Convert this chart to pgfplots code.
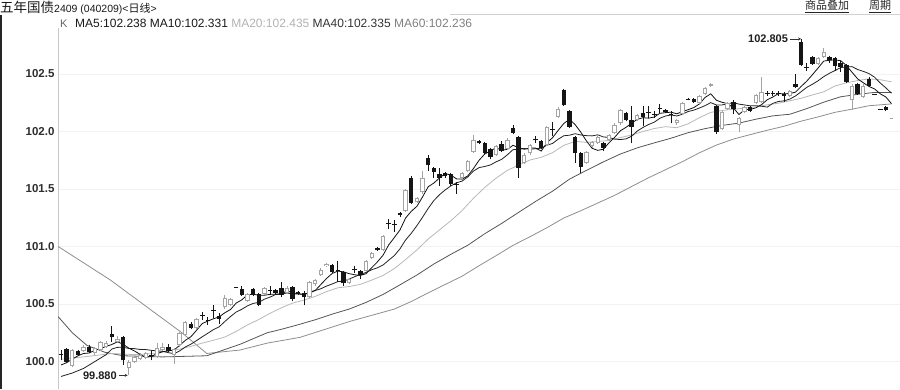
\documentclass[border=0pt]{standalone}
\usepackage{pgfplots}
\pgfplotsset{compat=1.18}
\usepackage{pgfplotstable}
\usepackage{fontspec}
\setmainfont{Liberation Sans}
\newfontfamily\cjk{Noto Sans CJK SC}
\usetikzlibrary{arrows.meta}
\definecolor{upc}{HTML}{A4A4A4}
\definecolor{dnc}{HTML}{151515}
\definecolor{maA}{HTML}{111111}
\definecolor{maB}{HTML}{222222}
\definecolor{maC}{HTML}{B8B8B8}
\definecolor{maD}{HTML}{555555}
\definecolor{maE}{HTML}{8E8E8E}

% up candles: index open high low close
\pgfplotstableread{
i o h l c
2 99.96 100.11 99.95 100.10
4 100.09 100.14 100.08 100.13
6 100.07 100.13 100.06 100.12
7 100.10 100.18 100.09 100.17
8 100.13 100.18 100.12 100.16
10 100.17 100.22 100.16 100.20
12 99.94 100.01 99.88 100.00
13 100.00 100.05 99.99 100.04
14 100.02 100.07 100.01 100.06
15 100.03 100.08 100.02 100.07
17 100.04 100.16 100.03 100.12
18 100.10 100.16 100.09 100.13
20 100.06 100.12 99.98 100.11
21 100.14 100.26 100.13 100.25
22 100.23 100.35 100.22 100.34
24 100.29 100.38 100.28 100.37
29 100.47 100.58 100.46 100.55
30 100.49 100.55 100.48 100.54
33 100.53 100.60 100.52 100.59
36 100.59 100.65 100.58 100.64
40 100.60 100.66 100.59 100.64
44 100.56 100.70 100.55 100.69
45 100.67 100.72 100.66 100.71
46 100.75 100.81 100.74 100.80
47 100.83 100.86 100.82 100.85
51 100.68 100.73 100.67 100.72
54 100.79 100.88 100.78 100.87
55 100.90 100.95 100.89 100.94
57 100.97 101.10 100.96 101.09
61 101.31 101.50 101.30 101.49
63 101.39 101.43 101.38 101.42
64 101.47 101.66 101.46 101.60
71 101.60 101.65 101.59 101.64
72 101.66 101.75 101.65 101.74
73 101.82 101.97 101.81 101.93
77 101.80 101.88 101.79 101.87
79 101.85 101.94 101.84 101.93
82 101.73 101.81 101.72 101.80
83 101.81 101.89 101.80 101.88
86 101.88 102.05 101.87 102.04
88 102.13 102.21 102.12 102.20
93 101.73 101.83 101.72 101.82
94 101.87 101.92 101.86 101.91
95 101.90 101.96 101.89 101.95
97 101.93 101.98 101.92 101.97
98 101.99 102.07 101.98 102.06
99 102.07 102.20 102.06 102.19
102 102.10 102.15 102.09 102.14
109 102.07 102.11 102.06 102.10
110 102.15 102.26 102.14 102.25
113 102.25 102.32 102.24 102.31
114 102.33 102.39 102.32 102.38
115 102.40 102.42 102.39 102.41
117 102.02 102.18 102.01 102.17
118 102.20 102.26 102.19 102.25
120 102.06 102.13 102.00 102.12
121 102.17 102.22 102.16 102.21
123 102.25 102.33 102.24 102.32
124 102.26 102.47 102.25 102.34
129 102.31 102.36 102.30 102.35
134 102.59 102.65 102.58 102.64
135 102.65 102.73 102.64 102.69
140 102.27 102.41 102.19 102.40
142 102.30 102.41 102.29 102.40
}\uptab

% down candles
\pgfplotstableread{
i o h l c
1 100.11 100.12 99.99 100.00
3 100.09 100.10 100.05 100.06
5 100.13 100.14 100.07 100.08
9 100.24 100.31 100.17 100.21
11 100.21 100.22 99.97 100.01
19 100.13 100.15 100.08 100.09
23 100.33 100.34 100.28 100.29
28 100.40 100.42 100.33 100.37
32 100.63 100.66 100.57 100.58
34 100.63 100.64 100.57 100.58
35 100.59 100.60 100.48 100.49
38 100.62 100.63 100.59 100.60
39 100.64 100.69 100.56 100.58
41 100.65 100.66 100.53 100.54
42 100.60 100.61 100.58 100.59
43 100.60 100.61 100.49 100.56
48 100.84 100.85 100.77 100.78
50 100.78 100.79 100.66 100.68
53 100.79 100.80 100.72 100.75
56 100.99 101.00 100.96 100.97
60 101.29 101.30 101.26 101.27
62 101.60 101.61 101.37 101.38
65 101.77 101.80 101.66 101.71
66 101.68 101.69 101.60 101.65
67 101.63 101.68 101.53 101.60
68 101.64 101.65 101.60 101.61
69 101.63 101.64 101.53 101.54
74 101.92 101.93 101.89 101.90
75 101.90 101.91 101.80 101.81
76 101.85 101.86 101.76 101.78
78 101.89 101.92 101.82 101.83
80 102.03 102.06 101.98 101.99
81 101.95 101.96 101.60 101.68
85 101.92 101.93 101.85 101.86
89 102.36 102.37 102.22 102.23
90 102.18 102.19 102.03 102.04
91 101.95 101.96 101.73 101.81
92 101.81 101.82 101.64 101.69
96 101.90 101.91 101.83 101.86
100 102.16 102.17 102.09 102.10
101 102.10 102.22 101.90 102.04
103 102.16 102.22 102.05 102.13
107 102.19 102.20 102.16 102.17
112 102.28 102.29 102.25 102.26
116 102.22 102.23 101.98 102.00
119 102.26 102.27 102.15 102.20
122 102.21 102.22 102.17 102.18
128 102.33 102.34 102.26 102.31
130 102.41 102.50 102.38 102.39
131 102.78 102.805 102.57 102.58
133 102.65 102.66 102.58 102.59
136 102.65 102.66 102.60 102.62
137 102.64 102.65 102.53 102.57
138 102.60 102.61 102.52 102.56
139 102.58 102.59 102.42 102.43
141 102.41 102.42 102.32 102.33
143 102.46 102.47 102.39 102.40
146 102.21 102.22 102.18 102.19
}\dntab

% doji candles: index close high low
\pgfplotstableread{
i c h l
0 100.06 100.10 100.01
16 100.05 100.09 100.01
25 100.40 100.43 100.36
26 100.36 100.39 100.32
27 100.44 100.49 100.38
31 100.64 100.65 100.64
37 100.62 100.66 100.58
49 100.79 100.87 100.69
52 100.80 100.83 100.77
58 101.20 101.24 101.15
59 101.19 101.23 101.13
70 101.54 101.56 101.46
84 101.93 101.96 101.90
87 102.02 102.08 101.96
104 102.17 102.22 102.12
105 102.15 102.18 102.12
106 102.20 102.24 102.16
108 102.15 102.18 102.07
111 102.28 102.29 102.27
125 102.33 102.35 102.31
126 102.33 102.35 102.31
127 102.33 102.35 102.31
132 102.56 102.60 102.53
144 102.32 102.32 102.32
145 102.19 102.19 102.19
}\djtab

\pgfplotstableread{
i v
0 99.97
1 99.99
2 100.02
3 100.05
4 100.070
5 100.074
6 100.098
7 100.112
8 100.132
9 100.148
10 100.172
11 100.150
12 100.116
13 100.092
14 100.062
15 100.036
16 100.044
17 100.068
18 100.086
19 100.092
20 100.100
21 100.140
22 100.184
23 100.216
24 100.272
25 100.330
26 100.352
27 100.372
28 100.388
29 100.424
30 100.452
31 100.508
32 100.536
33 100.580
34 100.586
35 100.576
36 100.576
37 100.584
38 100.586
39 100.586
40 100.616
41 100.596
42 100.590
43 100.582
44 100.604
45 100.618
46 100.670
47 100.722
48 100.766
49 100.786
50 100.780
51 100.764
52 100.754
53 100.748
54 100.764
55 100.816
56 100.866
57 100.924
58 101.014
59 101.078
60 101.144
61 101.248
62 101.306
63 101.350
64 101.432
65 101.520
66 101.552
67 101.596
68 101.634
69 101.622
70 101.588
71 101.586
72 101.614
73 101.678
74 101.750
75 101.804
76 101.832
77 101.858
78 101.838
79 101.844
80 101.880
81 101.860
82 101.846
83 101.856
84 101.856
85 101.830
86 101.902
87 101.946
88 102.010
89 102.070
90 102.106
91 102.060
92 101.994
93 101.918
94 101.854
95 101.836
96 101.846
97 101.902
98 101.950
99 102.006
100 102.036
101 102.072
102 102.106
103 102.120
104 102.116
105 102.126
106 102.158
107 102.164
108 102.168
109 102.154
110 102.174
111 102.190
112 102.208
113 102.240
114 102.296
115 102.328
116 102.272
117 102.254
118 102.242
119 102.206
120 102.148
121 102.190
122 102.192
123 102.206
124 102.234
125 102.276
126 102.300
127 102.330
128 102.328
129 102.330
130 102.342
131 102.392
132 102.438
133 102.494
134 102.552
135 102.612
136 102.620
137 102.622
138 102.616
139 102.574
140 102.516
141 102.458
142 102.424
143 102.392
144 102.370
145 102.328
146 102.300
147 102.242
}\mafive

\pgfplotstableread{
i v
0 99.87
2 99.90
4 99.94
6 100.00
8 100.06
9 100.109
10 100.123
11 100.124
12 100.114
13 100.112
14 100.105
15 100.104
16 100.097
17 100.092
18 100.089
19 100.077
20 100.068
21 100.092
22 100.126
23 100.151
24 100.182
25 100.215
26 100.246
27 100.278
28 100.302
29 100.348
30 100.391
31 100.430
32 100.454
33 100.484
34 100.505
35 100.514
36 100.542
37 100.560
38 100.583
39 100.586
40 100.596
41 100.586
42 100.587
43 100.584
44 100.595
45 100.617
46 100.633
47 100.656
48 100.674
49 100.695
50 100.699
51 100.717
52 100.738
53 100.757
54 100.775
55 100.798
56 100.815
57 100.839
58 100.881
59 100.921
60 100.980
61 101.057
62 101.115
63 101.182
64 101.255
65 101.332
66 101.400
67 101.451
68 101.492
69 101.527
70 101.554
71 101.569
72 101.605
73 101.656
74 101.686
75 101.696
76 101.709
77 101.736
78 101.758
79 101.797
80 101.842
81 101.846
82 101.852
83 101.847
84 101.850
85 101.855
86 101.881
87 101.896
88 101.933
89 101.963
90 101.968
91 101.981
92 101.970
93 101.964
94 101.962
95 101.971
96 101.953
97 101.948
98 101.934
99 101.930
100 101.936
101 101.959
102 102.004
103 102.035
104 102.061
105 102.081
106 102.115
107 102.135
108 102.144
109 102.135
110 102.150
111 102.174
112 102.186
113 102.204
114 102.225
115 102.251
116 102.231
117 102.231
118 102.241
119 102.251
120 102.238
121 102.231
122 102.223
123 102.224
124 102.220
125 102.212
126 102.245
127 102.261
128 102.267
129 102.282
130 102.309
131 102.346
132 102.384
133 102.411
134 102.441
135 102.477
136 102.506
137 102.530
138 102.555
139 102.563
140 102.564
141 102.539
142 102.523
143 102.504
144 102.472
145 102.422
146 102.379
147 102.333
}\maten

\pgfplotstableread{
i v
0 100.02
4 100.04
9 100.07
13 100.06
17 100.07
19 100.093
21 100.108
23 100.132
25 100.160
27 100.185
29 100.213
31 100.261
33 100.318
35 100.365
37 100.419
39 100.467
41 100.508
43 100.534
45 100.566
47 100.608
49 100.641
51 100.652
53 100.671
55 100.708
57 100.748
59 100.808
61 100.887
63 100.970
65 101.065
67 101.145
69 101.224
71 101.313
73 101.419
75 101.514
77 101.594
79 101.662
81 101.708
83 101.752
85 101.776
87 101.816
89 101.880
91 101.914
93 101.906
95 101.913
97 101.922
99 101.947
101 101.970
103 102.000
105 102.026
107 102.042
109 102.033
111 102.067
113 102.120
115 102.166
117 102.183
119 102.193
121 102.203
123 102.214
125 102.232
127 102.246
129 102.267
131 102.289
133 102.318
135 102.345
137 102.396
139 102.423
141 102.443
143 102.458
145 102.450
147 102.432
}\matwenty

\pgfplotstableread{
i v
-0.5 100.39
2 100.25
4.6 100.14
7.8 100.08
11 100.05
18 100.04
25.8 100.05
31.7 100.15
36.5 100.25
39 100.280
42 100.320
45 100.363
48 100.412
51 100.456
54 100.514
57 100.583
60 100.667
63 100.752
66 100.848
69 100.932
72 101.011
75 101.111
78 101.201
81 101.297
84 101.392
87 101.481
90 101.586
93 101.662
96 101.736
99 101.804
102 101.858
105 101.901
108 101.942
111 101.990
114 102.025
117 102.053
120 102.073
123 102.107
126 102.136
129 102.150
132 102.199
135 102.255
138 102.302
141 102.323
144 102.340
147 102.339
}\mafourty

\pgfplotstableread{
i v
-0.5 101.00
8.7 100.71
21.4 100.25
25.8 100.07
31.7 100.10
36.5 100.16
42.3 100.21
51.2 100.35
59 100.456
62 100.522
65 100.597
68 100.670
71 100.742
74 100.833
77 100.920
80 101.010
83 101.085
86 101.163
89 101.248
92 101.311
95 101.378
98 101.445
101 101.522
104 101.598
107 101.668
110 101.738
113 101.815
116 101.882
119 101.934
122 101.973
125 102.011
128 102.046
131 102.090
134 102.127
137 102.167
140 102.194
143 102.224
147 102.240
}\masixty

\begin{document}
\begin{tikzpicture}
\useasboundingbox (-58pt,0pt) rectangle (842pt,389pt);
\begin{axis}[
  at={(0pt,0pt)}, anchor=south west, scale only axis,
  width=842pt, height=361pt,
  xmin=-0.53, xmax=148.5, ymin=99.761, ymax=102.9,
  axis x line=none, axis y line*=left,
  axis line style={draw=black!22, line width=0.8pt},
  ytick={100,100.5,101,101.5,102,102.5},
  major tick length=0pt,
  ymajorgrids, grid style={draw=black!5, line width=0.5pt},
  yticklabel style={font=\bfseries\fontsize{11.5}{13}\selectfont, text=black!82,
    /pgf/number format/fixed, /pgf/number format/fixed zerofill,
    /pgf/number format/precision=1, /pgf/number format/assume math mode=true},
]
% moving averages
\addplot[maE, line width=0.8pt] table[x=i,y=v]{\masixty};
\addplot[maD, line width=0.8pt] table[x=i,y=v]{\mafourty};
\addplot[maC, line width=0.8pt] table[x=i,y=v]{\matwenty};
\addplot[maB, line width=0.8pt] table[x=i,y=v]{\maten};
\addplot[maA, line width=0.8pt] table[x=i,y=v]{\mafive};
% up candles: wick, outline, hollow
\addplot[draw=none, error bars/.cd, y dir=plus, y explicit, error mark=none,
  error bar style={draw=upc, line width=0.8pt}]
  table[x=i, y=l, y error plus expr=\thisrow{h}-\thisrow{l}]{\uptab};
\addplot[draw=none, error bars/.cd, y dir=plus, y explicit, error mark=none,
  error bar style={draw=upc, line width=4.4pt}]
  table[x=i, y=o, y error plus expr={max(\thisrow{c}-\thisrow{o},0.012)}]{\uptab};
\addplot[draw=none, error bars/.cd, y dir=plus, y explicit, error mark=none,
  error bar style={draw=white, line width=2.4pt}]
  table[x=i, y expr=\thisrow{o}+0.0087, y error plus expr={max(\thisrow{c}-\thisrow{o}-0.0174,0)}]{\uptab};
% down candles
\addplot[draw=none, error bars/.cd, y dir=plus, y explicit, error mark=none,
  error bar style={draw=dnc, line width=0.8pt}]
  table[x=i, y=l, y error plus expr=\thisrow{h}-\thisrow{l}]{\dntab};
\addplot[draw=none, error bars/.cd, y dir=plus, y explicit, error mark=none,
  error bar style={draw=dnc, line width=4.4pt}]
  table[x=i, y=c, y error plus expr={max(\thisrow{o}-\thisrow{c},0.012)}]{\dntab};
% doji candles
\addplot[draw=none, error bars/.cd, y dir=plus, y explicit, error mark=none,
  error bar style={draw=dnc, line width=0.8pt}]
  table[x=i, y=l, y error plus expr=\thisrow{h}-\thisrow{l}]{\djtab};
\addplot[only marks, mark=-, mark size=2.3pt, mark options={draw=dnc, line width=0.9pt}]
  table[x=i, y=c]{\djtab};
\addplot[only marks, mark=-, mark size=1.6pt, mark options={draw=black!35, line width=0.9pt}]
  coordinates {(147,102.11)};
% annotations
\node[anchor=east, inner sep=0pt, font=\bfseries\fontsize{11}{12}\selectfont, text=black!88]
  at (axis cs:128.7,102.805) {102.805};
\draw[black!80, line width=0.7pt, -{Stealth[length=3pt,width=3pt]}] (axis cs:129.1,102.805) -- (axis cs:131.0,102.805);
\node[anchor=east, inner sep=0pt, font=\bfseries\fontsize{11}{12}\selectfont, text=black!88]
  at (axis cs:9.9,99.88) {99.880};
\draw[black!80, line width=0.7pt, -{Stealth[length=3pt,width=3pt]}] (axis cs:10.3,99.88) -- (axis cs:11.8,99.88);
\end{axis}
% frame and header
\draw[black!85, line width=1.6pt] (-57.2pt,0pt) -- (-57.2pt,374pt);
\draw[black!18, line width=0.8pt] (392pt,375pt) -- (842pt,375pt);
\node[anchor=west, inner sep=0pt, text=black!90] at (-58pt,381.5pt)
  {{\cjk\fontsize{13.5}{14}\selectfont 五年国债}{\fontsize{10.5}{12}\selectfont 2409 (040209)<}{\cjk\fontsize{11}{12}\selectfont 日线}{\fontsize{10.5}{12}\selectfont >}};
\node[inner sep=0pt, text=black!85, font=\cjk\fontsize{11}{12}\selectfont] at (769pt,382.5pt) {\underline{商品叠加}};
\node[inner sep=0pt, text=black!85, font=\cjk\fontsize{11}{12}\selectfont] at (822pt,382.5pt) {\underline{周期}};
\node[anchor=west, inner sep=0pt, text=black!60, font=\fontsize{11}{12}\selectfont] at (2pt,365.5pt) {K};
\node[anchor=west, inner sep=0pt, font=\fontsize{12}{13}\selectfont] at (17pt,365.5pt)
  {\textcolor{black!90}{MA5:102.238} \textcolor{black!90}{MA10:102.331} \textcolor{black!30}{MA20:102.435} \textcolor{black!80}{MA40:102.335} \textcolor{black!50}{MA60:102.236}};
\end{tikzpicture}
\end{document}
